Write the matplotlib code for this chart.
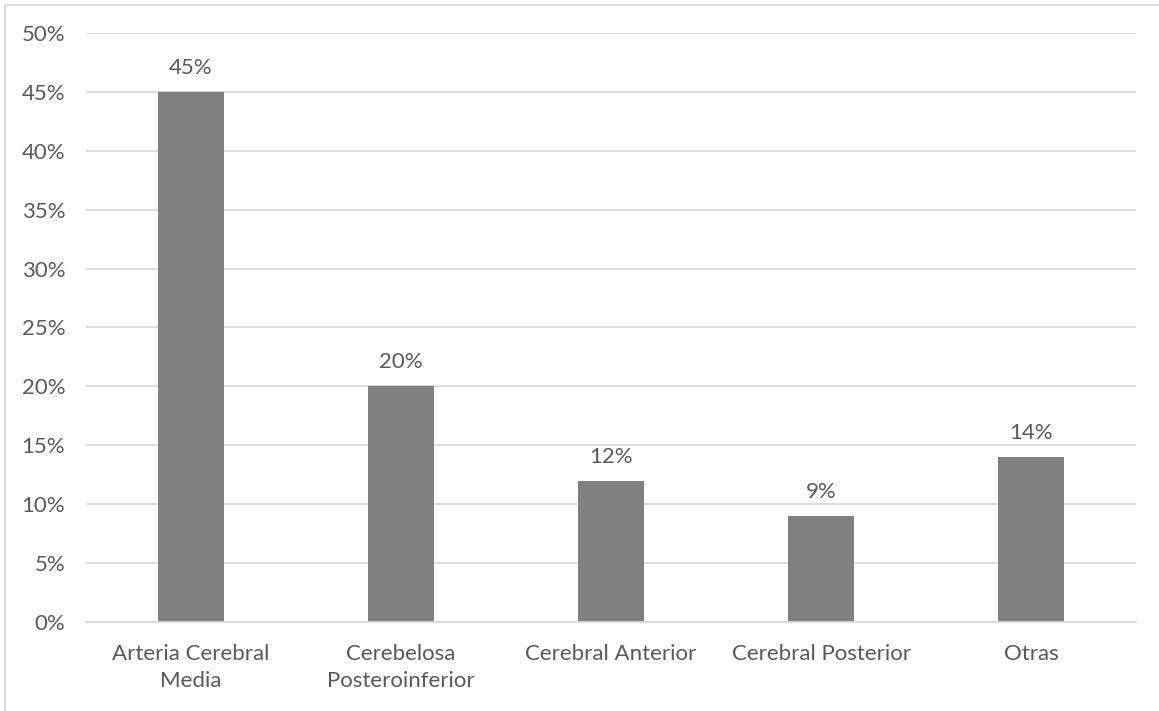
import matplotlib.pyplot as plt
from matplotlib.patches import Rectangle
from matplotlib.ticker import PercentFormatter

# Distribution by artery territory
arteries = ["Arteria Cerebral\nMedia", "Cerebelosa\nPosteroinferior",
            "Cerebral Anterior", "Cerebral Posterior", "Otras"]
percent = [45, 20, 12, 9, 14]
y_ticks = list(range(0, 55, 5))

plt.rcParams['font.family'] = ['Lato', 'DejaVu Sans']
text_color = '#595959'
fsize = 16

fig = plt.figure(figsize=(11.59, 7.11), dpi=100, facecolor='white')
ax = fig.add_axes([0.0742, 0.1252, 0.9060, 0.8284])

x = range(len(arteries))
bars = ax.bar(x, percent, width=0.314, color='#808080', zorder=3)

for rect, val in zip(bars, percent):
    ax.annotate(f"{val}%", (rect.get_x() + rect.get_width() / 2, val),
                xytext=(0, 10), textcoords='offset points',
                ha='center', va='bottom', fontsize=fsize, color=text_color)

ax.set_xlim(-0.5, len(arteries) - 0.5)
ax.set_ylim(0, 50)
ax.set_yticks(y_ticks)
ax.yaxis.set_major_formatter(PercentFormatter(decimals=0))
ax.set_xticks(list(x))
ax.set_xticklabels(arteries, linespacing=1.45)

ax.grid(axis='y', color='#d9d9d9', linewidth=1.3, zorder=0)
ax.tick_params(axis='both', length=0, labelsize=fsize, colors=text_color)
ax.tick_params(axis='y', pad=15)
ax.tick_params(axis='x', pad=16)

for side in ['top', 'right', 'left']:
    ax.spines[side].set_visible(False)
ax.spines['bottom'].set_color('#d9d9d9')
ax.spines['bottom'].set_linewidth(1.3)
ax.spines['bottom'].set_zorder(4)

# chart frame, partly cut off at right and bottom
fig.patches.append(Rectangle((4.5 / 1159, -0.05), 1.1, 1 - 4.5 / 711 + 0.05,
                             transform=fig.transFigure, fill=False,
                             edgecolor='#d9d9d9', linewidth=1.3))

fig.savefig('out.png', dpi=100, facecolor='white')
